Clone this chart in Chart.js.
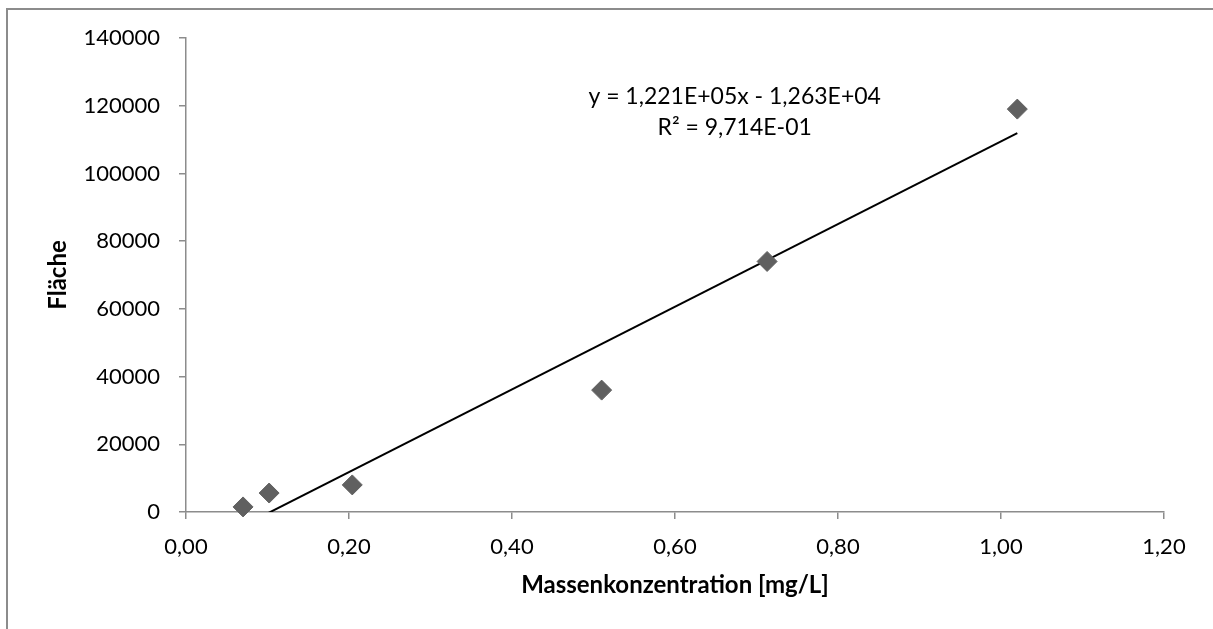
<!DOCTYPE html>
<html>
<head>
<meta charset="utf-8">
<script src="https://cdn.jsdelivr.net/npm/chart.js@4"></script>
<style>
  html, body { margin: 0; padding: 0; background: #fff; overflow: hidden; }
  #frame { position: absolute; left: 6px; top: 8px; width: 1300px; height: 700px;
           border-left: 2px solid #8c8c8c; border-top: 2px solid #8c8c8c; }
  #wrap { position: absolute; left: 0; top: 0; width: 1213px; height: 629px; }
</style>
</head>
<body>
<div id="frame"></div>
<div id="wrap"><canvas id="myChart" width="1213" height="629"></canvas></div>
<script>
// measured points
const massX = [0.07, 0.102, 0.204, 0.51, 0.713, 1.02];
const flaeche = [1500, 5600, 8000, 36000, 74000, 119000];

// trend line end points
const trendX = [0.07, 1.02];
const trendY = [-4080, 111900];

const equationLines = ["y = 1,221E+05x - 1,263E+04", "R² = 9,714E-01"];

const fontName = "Lato, 'Open Sans', sans-serif";
const axisGray = "#8c8c8c";

const equationLabel = {
    id: 'equationLabel',
    afterDraw(chart) {
        const ctx = chart.ctx;
        const area = chart.chartArea;
        ctx.save();
        ctx.font = "23px " + fontName;
        ctx.fillStyle = "#000";
        ctx.textAlign = "center";
        ctx.textBaseline = "middle";
        const cx = area.left + (area.right - area.left) * 0.561;
        ctx.fillText(equationLines[0], cx, area.top + 59);
        ctx.fillText(equationLines[1], cx, area.top + 90);
        ctx.restore();
    }
};

function commaFixed(v) {
    return Number(v).toFixed(2).replace('.', ',');
}

new Chart("myChart", {
    type: "scatter",
    data: {
        datasets: [{
            label: "Fläche",
            data: massX.map((x, i) => ({ x: x, y: flaeche[i] })),
            pointStyle: "rectRot",
            pointRadius: 10,
            pointHoverRadius: 10,
            backgroundColor: "#606060",
            borderColor: "#606060",
            borderWidth: 1,
            clip: false
        }, {
            type: "line",
            label: "Trend",
            data: trendX.map((x, i) => ({ x: x, y: trendY[i] })),
            borderColor: "#000",
            borderWidth: 2,
            pointRadius: 0,
            fill: false,
            clip: 0
        }]
    },
    options: {
        responsive: false,
        animation: false,
        layout: { padding: { left: 0, top: 38, right: 49, bottom: 0 } },
        plugins: {
            legend: { display: false },
            tooltip: { enabled: false }
        },
        scales: {
            x: {
                type: "linear",
                min: 0,
                max: 1.2,
                ticks: {
                    stepSize: 0.2,
                    color: "#000",
                    font: { family: fontName, size: 22 },
                    padding: 15,
                    maxRotation: 0,
                    callback: v => commaFixed(v)
                },
                grid: { display: true, drawOnChartArea: false, drawTicks: true, tickLength: 7, color: axisGray, lineWidth: 1.5 },
                border: { display: true, color: axisGray, width: 1.5 },
                title: {
                    display: true,
                    text: "Massenkonzentration [mg/L]",
                    color: "#000",
                    font: { family: fontName, size: 24, weight: "bold" },
                    padding: { top: 0, bottom: 29 }
                },
                afterFit: s => { s.height = 117; }
            },
            y: {
                min: 0,
                max: 140000,
                ticks: {
                    stepSize: 20000,
                    color: "#000",
                    font: { family: fontName, size: 22 },
                    padding: 19,
                    callback: v => String(v)
                },
                grid: { display: true, drawOnChartArea: false, drawTicks: true, tickLength: 7, color: axisGray, lineWidth: 1.5 },
                border: { display: true, color: axisGray, width: 1.5 },
                title: {
                    display: true,
                    text: "Fläche",
                    color: "#000",
                    font: { family: fontName, size: 24, weight: "bold" },
                    padding: { top: 44, bottom: 0 }
                },
                afterFit: s => { s.width = 186; }
            }
        }
    },
    plugins: [equationLabel]
});
</script>
</body>
</html>
